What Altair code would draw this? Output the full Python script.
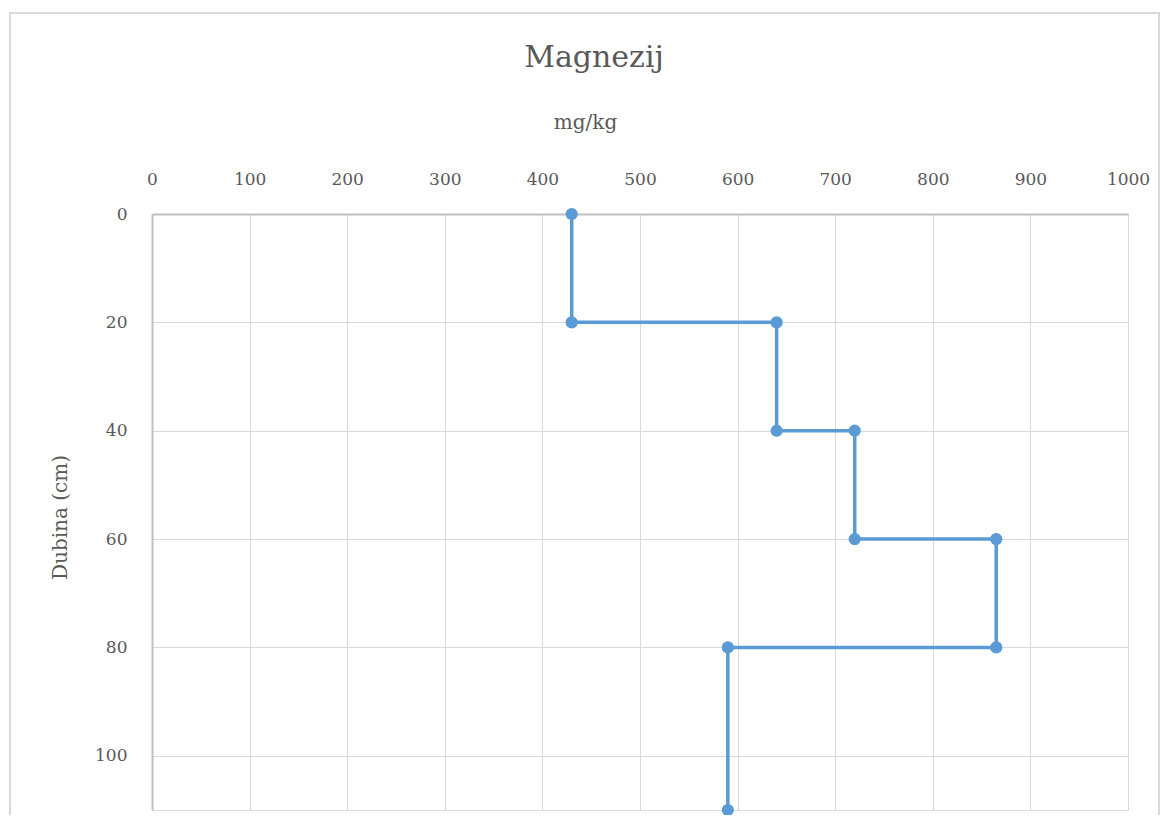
import altair as alt
import pandas as pd

depth = [0, 20, 20, 40, 40, 60, 60, 80, 80, 110]
magnesium = [430, 430, 640, 640, 720, 720, 865, 865, 590, 590]
order = list(range(len(depth)))
x_ticks = [0, 100, 200, 300, 400, 500, 600, 700, 800, 900, 1000]
y_ticks = [0, 20, 40, 60, 80, 100]

df = pd.DataFrame({"mg": magnesium, "depth": depth, "order": order})

FONT = "DejaVu Serif"
GRAY = "#595959"
BLUE = "#5b9bd5"

x_enc = alt.X(
    "mg:Q",
    scale=alt.Scale(domain=[0, 1000], nice=False, zero=True),
    axis=alt.Axis(
        orient="top", values=x_ticks, format="d", title="mg/kg", grid=True,
        gridColor="#d9d9d9", gridWidth=1, ticks=False, labelFlush=False,
        domainColor="#bfbfbf", domainWidth=2,
        labelFont=FONT, labelFontSize=17, labelColor=GRAY, labelPadding=26,
        titleFont=FONT, titleFontSize=20, titleFontWeight="normal", titleColor=GRAY,
        titleX=433, titleY=-92, titleBaseline="middle", titleAnchor="middle",
    ),
)
y_enc = alt.Y(
    "depth:Q",
    scale=alt.Scale(domain=[0, 110], reverse=True, nice=False),
    axis=alt.Axis(
        values=y_ticks, format="d", title="Dubina (cm)", grid=True,
        gridColor="#d9d9d9", gridWidth=1, ticks=False, labelFlush=False,
        domainColor="#bfbfbf", domainWidth=2,
        labelFont=FONT, labelFontSize=17, labelColor=GRAY, labelPadding=25,
        titleFont=FONT, titleFontSize=20, titleFontWeight="normal", titleColor=GRAY,
        titleX=-92, titleY=303, titleBaseline="middle", titleAngle=-90,
    ),
)

border = alt.Chart(pd.DataFrame({"a": [0]})).mark_rect(
    fill=None, stroke="#d9d9d9", strokeWidth=2
).encode(
    x=alt.value(-142), x2=alt.value(1007), y=alt.value(-201), y2=alt.value(640)
)

line = alt.Chart(df).mark_line(color=BLUE, strokeWidth=3.5).encode(
    x=x_enc, y=y_enc, order="order:O"
)
points = alt.Chart(df).mark_point(
    filled=True, color=BLUE, size=150, opacity=1
).encode(x="mg:Q", y="depth:Q")

chart = alt.layer(border, line, points).properties(
    width=976,
    height=596,
    title=alt.TitleParams(
        "Magnezij", font=FONT, fontSize=30, fontWeight="normal", color=GRAY,
        anchor="middle", dx=-46, offset=-61,
    ),
    autosize=alt.AutoSizeParams(type="none"),
    padding={"left": 144, "top": 206, "right": 32, "bottom": 5},
).configure_view(stroke=None).configure(background="white")

chart.save("out.html", embed_options={"renderer": "svg", "actions": False})
